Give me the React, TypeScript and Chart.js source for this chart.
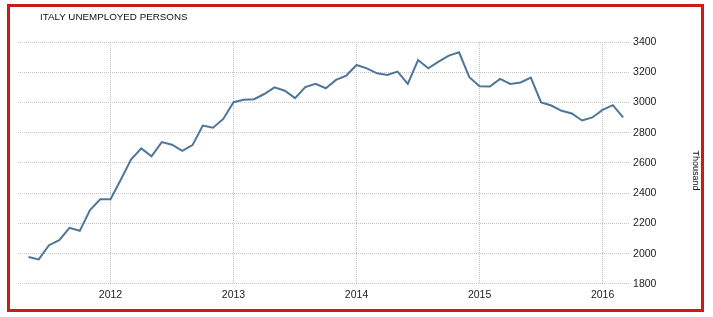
import React, { useEffect, useRef } from "react";
import { Chart, registerables } from "chart.js";

Chart.register(...registerables);

const TITLE = "ITALY UNEMPLOYED PERSONS";
const UNIT = "Thousand";

// Monthly observations, May 2011 .. Mar 2016
const months = [
  "2011-05", "2011-06", "2011-07", "2011-08", "2011-09", "2011-10", "2011-11", "2011-12",
  "2012-01", "2012-02", "2012-03", "2012-04", "2012-05", "2012-06", "2012-07", "2012-08", "2012-09", "2012-10", "2012-11", "2012-12",
  "2013-01", "2013-02", "2013-03", "2013-04", "2013-05", "2013-06", "2013-07", "2013-08", "2013-09", "2013-10", "2013-11", "2013-12",
  "2014-01", "2014-02", "2014-03", "2014-04", "2014-05", "2014-06", "2014-07", "2014-08", "2014-09", "2014-10", "2014-11", "2014-12",
  "2015-01", "2015-02", "2015-03", "2015-04", "2015-05", "2015-06", "2015-07", "2015-08", "2015-09", "2015-10", "2015-11", "2015-12",
  "2016-01", "2016-02", "2016-03",
];

const unemployed = [
  1978, 1962, 2056, 2089, 2171, 2151, 2289, 2360,
  2360, 2489, 2622, 2696, 2644, 2738, 2721, 2680, 2718, 2847, 2833, 2891,
  3002, 3018, 3022, 3056, 3100, 3078, 3029, 3102, 3124, 3094, 3149, 3178,
  3248, 3226, 3193, 3182, 3204, 3123, 3281, 3226, 3270, 3310, 3332, 3167,
  3108, 3105, 3156, 3123, 3132, 3165, 3000, 2980, 2945, 2927, 2881, 2901,
  2951, 2982, 2901,
];

const yearTicks = [2012, 2013, 2014, 2015, 2016];
const xMin = 2011.248;
const xMax = 2016.215;
const yMin = 1800;
const yMax = 3400;
const yStep = 200;

const toYear = (m: string) => {
  const [y, mo] = m.split("-").map(Number);
  return y + (mo - 1) / 12;
};

export default function App() {
  const ref = useRef<HTMLCanvasElement | null>(null);

  useEffect(() => {
    if (!ref.current) return;
    const points = months.map((m, i) => ({ x: toYear(m), y: unemployed[i] }));
    const tickFont = { family: "'Liberation Sans', Arial, sans-serif", size: 10.5 };
    const gridColor = "#c4c4c4";
    const chart = new Chart(ref.current, {
      type: "line",
      data: {
        datasets: [
          {
            data: points,
            borderColor: "#4f7698",
            borderWidth: 2,
            pointRadius: 0,
            tension: 0,
            fill: false,
          },
        ],
      },
      options: {
        animation: false,
        responsive: false,
        maintainAspectRatio: false,
        layout: { padding: { left: 18, top: 42, right: 11.8, bottom: 10.5 } },
        plugins: {
          legend: { display: false },
          tooltip: { enabled: false },
          title: { display: false },
        },
        scales: {
          x: {
            type: "linear",
            min: xMin,
            max: xMax,
            afterBuildTicks: (axis: any) => {
              axis.ticks = yearTicks.map((v) => ({ value: v }));
            },
            grid: { color: gridColor, lineWidth: 1, drawTicks: false },
            border: { display: false, dash: [1, 1] },
            ticks: {
              padding: 5,
              color: "#222",
              font: tickFont,
              maxRotation: 0,
              autoSkip: false,
              callback: (v: any) => String(v),
            },
          },
          y: {
            position: "right",
            min: yMin,
            max: yMax,
            grid: { color: gridColor, lineWidth: 1, drawTicks: false },
            border: { display: false, dash: [1, 1] },
            ticks: {
              stepSize: yStep,
              padding: 4,
              color: "#222",
              font: tickFont,
              callback: (v: any) => String(v),
            },
            title: {
              display: true,
              text: "\u00A0\u00A0\u00A0\u00A0\u00A0\u00A0" + UNIT,
              color: "#111",
              font: { family: "'Liberation Sans', Arial, sans-serif", size: 9 },
              padding: { top: 0, bottom: 30 },
            },
          },
        },
      },
    });
    return () => chart.destroy();
  }, []);

  return (
    <div style={{ position: "fixed", left: 0, top: 0, width: 713, height: 317, background: "#fff" }}>
      <canvas ref={ref} width={713} height={317} style={{ position: "absolute", left: 0, top: 0, width: 713, height: 317 }} />
      <div
        style={{
          position: "absolute",
          left: 40,
          top: 10,
          fontFamily: "'Liberation Sans', Arial, sans-serif",
          fontSize: 9.8,
          lineHeight: "13px",
          color: "#111",
          whiteSpace: "nowrap",
        }}
      >
        {TITLE}
      </div>
      <div
        style={{
          position: "absolute",
          left: 7,
          top: 4,
          width: 697,
          height: 308,
          boxSizing: "border-box",
          border: "3px solid #cc1a1a",
          pointerEvents: "none",
        }}
      />
    </div>
  );
}
